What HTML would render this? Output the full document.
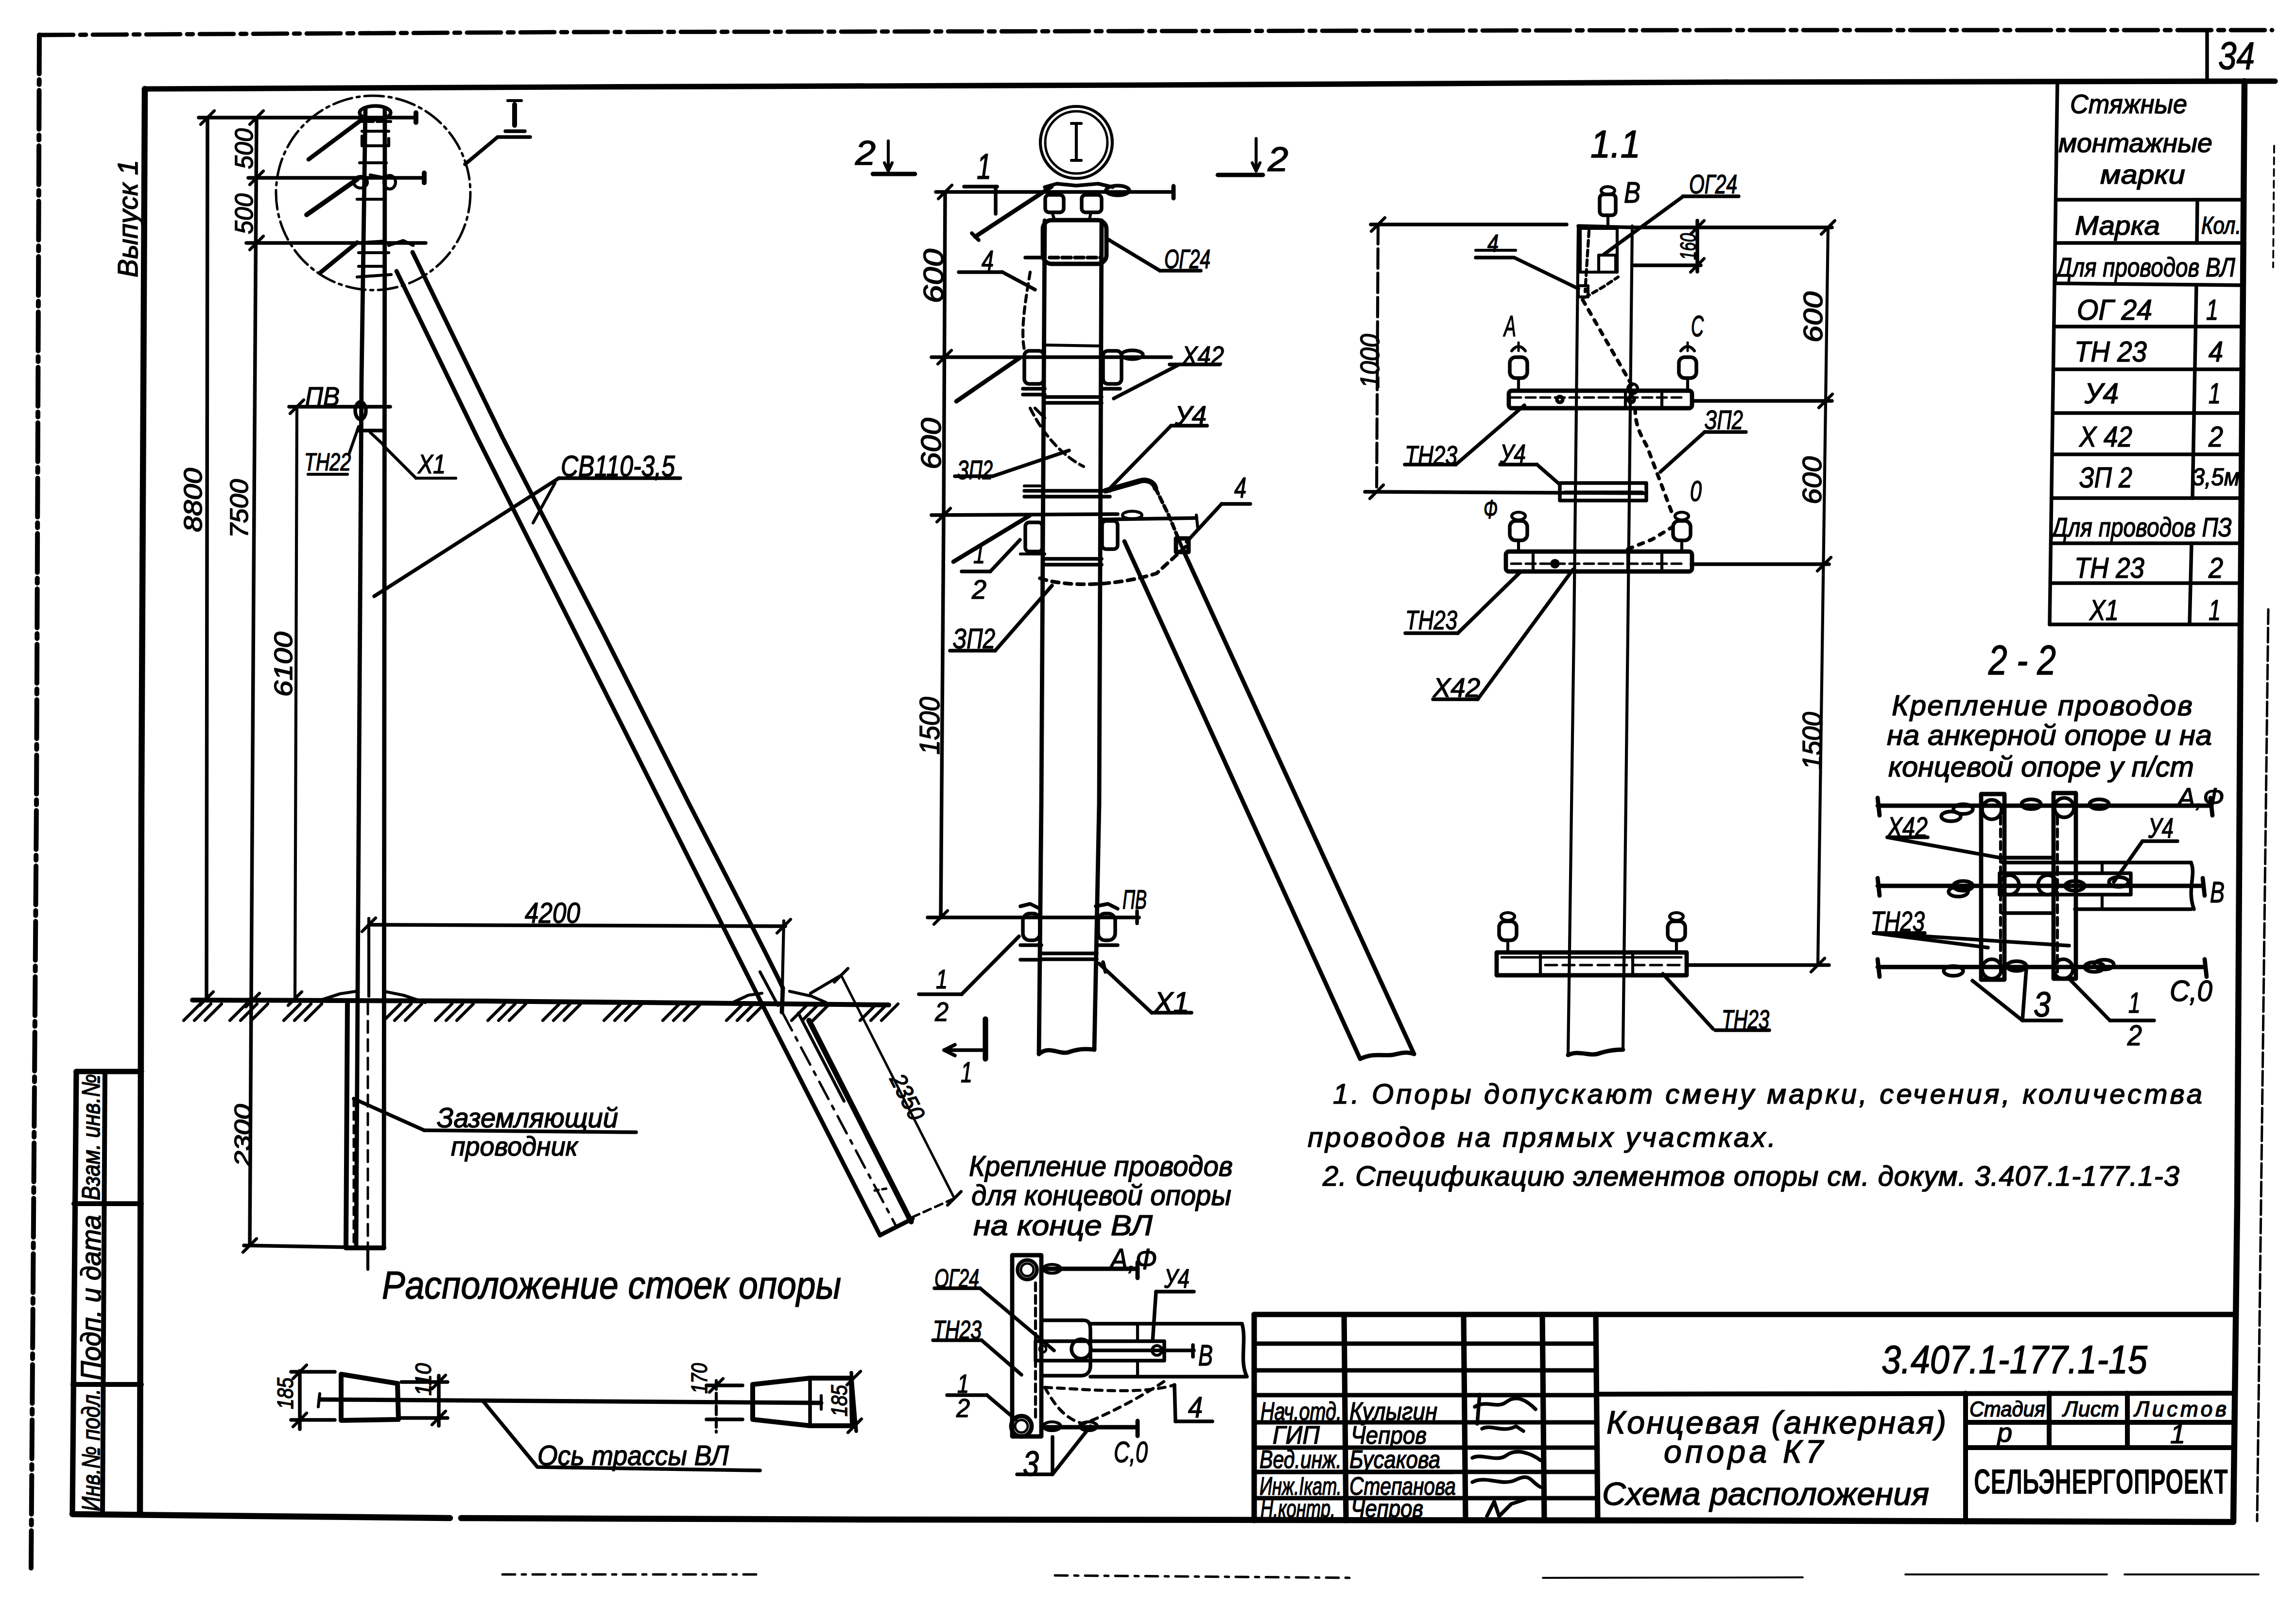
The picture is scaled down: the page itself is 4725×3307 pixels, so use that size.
<!DOCTYPE html>
<html><head><meta charset="utf-8"><title>drawing</title>
<style>
html,body{margin:0;padding:0;background:#fff;}
svg{display:block;}
text{font-family:"Liberation Sans",sans-serif;font-style:italic;fill:#000;stroke:#000;stroke-width:1.6px;}
text.b{font-weight:bold;stroke-width:0;}
text.u{font-style:normal;font-weight:bold;stroke-width:0;}
</style></head><body>
<svg width="4725" height="3307" viewBox="0 0 4725 3307">
<rect x="0" y="0" width="4725" height="3307" fill="#fff"/>
<g fill="none" stroke="#000" stroke-linecap="round" stroke-linejoin="round">
<polyline points="81,72 1181,66 2362,64 3543,62 4676,62" stroke-width="8.8" stroke-dasharray="70,14,12,14"/>
<polyline points="81,72 75,1654 64,3227" stroke-width="10" stroke-dasharray="80,12,10,12"/>
<line x1="4542" y1="62" x2="4542" y2="165" stroke-width="7.5"/>
<text x="4602.5" y="141.8" font-size="80" text-anchor="middle" class="h" textLength="75" lengthAdjust="spacingAndGlyphs">34</text>
<line x1="4680" y1="300" x2="4678" y2="550" stroke-width="3.8" stroke-dasharray="14,10"/>
<line x1="4668" y1="1254" x2="4645" y2="3130" stroke-width="5" stroke-dasharray="30,8"/>
<polyline points="298,183 1181,179 2362,175 3543,169 4682,167" stroke-width="11.2"/>
<polyline points="298,183 291,1654 288,3116" stroke-width="12.5"/>
<polyline points="149,3116 926,3124" stroke-width="12.5"/>
<polyline points="949,3124 1800,3127 3543,3129 4596,3132" stroke-width="12.5"/>
<polyline points="4619,167 4611,1285 4604,2481 4596,3132" stroke-width="12.5"/>
<line x1="1034" y1="3240" x2="1567" y2="3240" stroke-width="5" stroke-dasharray="26,14,8,14"/>
<line x1="2171" y1="3242" x2="2790" y2="3247" stroke-width="5" stroke-dasharray="26,14,8,14"/>
<line x1="3175" y1="3247" x2="3710" y2="3246" stroke-width="3.8"/>
<line x1="3921" y1="3240" x2="4336" y2="3240" stroke-width="3.8"/>
<line x1="4372" y1="3240" x2="4648" y2="3240" stroke-width="3.8"/>
<polyline points="157,2205 291,2205" stroke-width="11.2"/>
<polyline points="157,2205 149,3114" stroke-width="11.2"/>
<polyline points="216,2205 211,3114" stroke-width="10"/>
<line x1="152" y1="2477" x2="291" y2="2477" stroke-width="10"/>
<line x1="150" y1="2849" x2="291" y2="2849" stroke-width="10"/>
<text x="186" y="2358.7" font-size="52" text-anchor="middle" class="h" textLength="260" lengthAdjust="spacingAndGlyphs" transform="rotate(-90 186 2340)">Взам. инв.№</text>
<text x="262" y="470.9" font-size="58" text-anchor="middle" class="h" textLength="242" lengthAdjust="spacingAndGlyphs" transform="rotate(-90 262 450)">Выпуск 1</text>
<text x="186" y="2690.9" font-size="58" text-anchor="middle" class="h" textLength="340" lengthAdjust="spacingAndGlyphs" transform="rotate(-90 186 2670)">Подп. и дата</text>
<text x="186" y="3002.7" font-size="52" text-anchor="middle" class="h" textLength="252" lengthAdjust="spacingAndGlyphs" transform="rotate(-90 186 2984)">Инв.№ подл.</text>
<polyline points="752,224 744,780 736,2040 733,2568" stroke-width="8.8"/>
<polyline points="792,224 791,1300 790,2568" stroke-width="8.8"/>
<line x1="715" y1="2063" x2="712" y2="2568" stroke-width="10"/>
<line x1="712" y1="2568" x2="790" y2="2568" stroke-width="10"/>
<line x1="757" y1="2063" x2="757" y2="2612" stroke-width="5" stroke-dasharray="24,14"/>
<line x1="728" y1="2260" x2="728" y2="2560" stroke-width="5" stroke-dasharray="16,12"/>
<ellipse cx="772" cy="232" rx="32" ry="14" stroke-width="7.5"/>
<line x1="740" y1="250" x2="805" y2="250" stroke-width="6.2" stroke-dasharray="10,8"/>
<line x1="745" y1="270" x2="800" y2="270" stroke-width="6.2"/>
<polyline points="745,280 745,300 800,300 800,285" stroke-width="6.2"/>
<line x1="740" y1="335" x2="795" y2="335" stroke-width="6.2"/>
<line x1="762" y1="360" x2="792" y2="366" stroke-width="6.2"/>
<ellipse cx="742" cy="375" rx="14" ry="12" stroke-width="6.2"/>
<ellipse cx="802" cy="375" rx="12" ry="14" stroke-width="6.2"/>
<line x1="735" y1="410" x2="792" y2="410" stroke-width="6.2"/>
<line x1="735" y1="500" x2="792" y2="496" stroke-width="6.2"/>
<line x1="738" y1="520" x2="800" y2="520" stroke-width="6.2"/>
<line x1="738" y1="548" x2="792" y2="548" stroke-width="6.2"/>
<line x1="735" y1="570" x2="805" y2="565" stroke-width="6.2"/>
<polyline points="800,505 830,495 850,505" stroke-width="6.2"/>
<line x1="409" y1="242" x2="856" y2="242" stroke-width="7.5"/>
<line x1="856" y1="232" x2="856" y2="252" stroke-width="10"/>
<line x1="511" y1="366" x2="873" y2="366" stroke-width="7.5"/>
<line x1="873" y1="356" x2="873" y2="376" stroke-width="10"/>
<line x1="507" y1="500" x2="876" y2="500" stroke-width="7.5"/>
<line x1="635" y1="328" x2="746" y2="245" stroke-width="8.8"/>
<line x1="631" y1="442" x2="735" y2="369" stroke-width="10"/>
<line x1="658" y1="562" x2="735" y2="499" stroke-width="8.8"/>
<circle cx="768" cy="397" r="200" stroke-width="5" stroke-dasharray="40,10,6,10"/>
<polyline points="957,338 1024,282 1091,282" stroke-width="7.5"/>
<line x1="1059" y1="215" x2="1059" y2="258" stroke-width="10"/>
<line x1="1045" y1="207" x2="1073" y2="207" stroke-width="6.2"/>
<line x1="1040" y1="270" x2="1080" y2="270" stroke-width="7.5"/>
<polyline points="427,242 425,2055" stroke-width="7.5"/>
<polyline points="528,242 522,1200 514,2563" stroke-width="7.5"/>
<polyline points="611,837 607,2055" stroke-width="6.2"/>
<line x1="595" y1="837" x2="803" y2="837" stroke-width="7.5"/>
<ellipse cx="742" cy="845" rx="11" ry="18" stroke-width="7.5"/>
<line x1="736" y1="886" x2="791" y2="886" stroke-width="7.5"/>
<line x1="762" y1="890" x2="789" y2="915" stroke-width="6.2"/>
<line x1="413" y1="256" x2="441" y2="228" stroke-width="6.2"/>
<line x1="514" y1="256" x2="542" y2="228" stroke-width="6.2"/>
<line x1="514" y1="380" x2="542" y2="352" stroke-width="6.2"/>
<line x1="514" y1="514" x2="542" y2="486" stroke-width="6.2"/>
<line x1="597" y1="851" x2="625" y2="823" stroke-width="6.2"/>
<line x1="411" y1="2069" x2="439" y2="2041" stroke-width="6.2"/>
<line x1="593" y1="2069" x2="621" y2="2041" stroke-width="6.2"/>
<line x1="506" y1="2072" x2="534" y2="2044" stroke-width="6.2"/>
<line x1="500" y1="2577" x2="528" y2="2549" stroke-width="6.2"/>
<line x1="502" y1="2563" x2="790" y2="2568" stroke-width="7.5"/>
<line x1="757" y1="2568" x2="757" y2="2612" stroke-width="6.2"/>
<text x="501" y="324.7" font-size="52" text-anchor="middle" class="h" textLength="84" lengthAdjust="spacingAndGlyphs" transform="rotate(-90 501 306)">500</text>
<text x="501" y="458.7" font-size="52" text-anchor="middle" class="h" textLength="84" lengthAdjust="spacingAndGlyphs" transform="rotate(-90 501 440)">500</text>
<text x="396" y="1047.7" font-size="52" text-anchor="middle" class="h" textLength="132" lengthAdjust="spacingAndGlyphs" transform="rotate(-90 396 1029)">8800</text>
<text x="491" y="1065.2" font-size="52" text-anchor="middle" class="h" textLength="121" lengthAdjust="spacingAndGlyphs" transform="rotate(-90 491 1046.5)">7500</text>
<text x="582" y="1385.7" font-size="52" text-anchor="middle" class="h" textLength="134" lengthAdjust="spacingAndGlyphs" transform="rotate(-90 582 1367)">6100</text>
<text x="499" y="2353.3" font-size="48" text-anchor="middle" class="h" textLength="128" lengthAdjust="spacingAndGlyphs" transform="rotate(-90 499 2336)">2300</text>
<text x="663.5" y="834.8" font-size="55" text-anchor="middle" class="h" textLength="71" lengthAdjust="spacingAndGlyphs">ПВ</text>
<text x="674" y="968" font-size="50" text-anchor="middle" class="h" textLength="96" lengthAdjust="spacingAndGlyphs">ТН22</text>
<line x1="634" y1="976" x2="715" y2="976" stroke-width="6.2"/>
<polyline points="718,935 738,878" stroke-width="6.2"/>
<text x="888.5" y="973.8" font-size="55" text-anchor="middle" class="h" textLength="57" lengthAdjust="spacingAndGlyphs">Х1</text>
<line x1="856" y1="984" x2="938" y2="984" stroke-width="6.2"/>
<polyline points="856,984 789,917" stroke-width="6.2"/>
<text x="1271.5" y="980.3" font-size="62" text-anchor="middle" class="h" textLength="235" lengthAdjust="spacingAndGlyphs">СВ110-3,5</text>
<line x1="1150" y1="984" x2="1400" y2="984" stroke-width="7.5"/>
<polyline points="1150,984 770,1227" stroke-width="7.5"/>
<line x1="1142" y1="994" x2="1097" y2="1076" stroke-width="6.2"/>
<polyline points="396,2058 1000,2060 1829,2068" stroke-width="10"/>
<polyline points="660,2058 700,2045 733,2040" stroke-width="6.2"/>
<polyline points="790,2040 830,2048 875,2063" stroke-width="6.2"/>
<polyline points="1510,2062 1540,2048 1568,2044" stroke-width="6.2"/>
<polyline points="1625,2040 1670,2050 1700,2063" stroke-width="6.2"/>
<line x1="378" y1="2100" x2="412" y2="2066" stroke-width="6.2"/>
<line x1="400" y1="2100" x2="434" y2="2066" stroke-width="6.2"/>
<line x1="422" y1="2100" x2="456" y2="2066" stroke-width="6.2"/>
<line x1="473" y1="2100" x2="507" y2="2066" stroke-width="6.2"/>
<line x1="495" y1="2100" x2="529" y2="2066" stroke-width="6.2"/>
<line x1="517" y1="2100" x2="551" y2="2066" stroke-width="6.2"/>
<line x1="584" y1="2100" x2="618" y2="2066" stroke-width="6.2"/>
<line x1="606" y1="2100" x2="640" y2="2066" stroke-width="6.2"/>
<line x1="628" y1="2100" x2="662" y2="2066" stroke-width="6.2"/>
<line x1="790" y1="2100" x2="824" y2="2066" stroke-width="6.2"/>
<line x1="812" y1="2100" x2="846" y2="2066" stroke-width="6.2"/>
<line x1="834" y1="2100" x2="868" y2="2066" stroke-width="6.2"/>
<line x1="896" y1="2100" x2="930" y2="2066" stroke-width="6.2"/>
<line x1="918" y1="2100" x2="952" y2="2066" stroke-width="6.2"/>
<line x1="940" y1="2100" x2="974" y2="2066" stroke-width="6.2"/>
<line x1="1004" y1="2100" x2="1038" y2="2066" stroke-width="6.2"/>
<line x1="1026" y1="2100" x2="1060" y2="2066" stroke-width="6.2"/>
<line x1="1048" y1="2100" x2="1082" y2="2066" stroke-width="6.2"/>
<line x1="1117" y1="2100" x2="1151" y2="2066" stroke-width="6.2"/>
<line x1="1139" y1="2100" x2="1173" y2="2066" stroke-width="6.2"/>
<line x1="1161" y1="2100" x2="1195" y2="2066" stroke-width="6.2"/>
<line x1="1243" y1="2100" x2="1277" y2="2066" stroke-width="6.2"/>
<line x1="1265" y1="2100" x2="1299" y2="2066" stroke-width="6.2"/>
<line x1="1287" y1="2100" x2="1321" y2="2066" stroke-width="6.2"/>
<line x1="1364" y1="2100" x2="1398" y2="2066" stroke-width="6.2"/>
<line x1="1386" y1="2100" x2="1420" y2="2066" stroke-width="6.2"/>
<line x1="1408" y1="2100" x2="1442" y2="2066" stroke-width="6.2"/>
<line x1="1495" y1="2100" x2="1529" y2="2066" stroke-width="6.2"/>
<line x1="1517" y1="2100" x2="1551" y2="2066" stroke-width="6.2"/>
<line x1="1539" y1="2100" x2="1573" y2="2066" stroke-width="6.2"/>
<line x1="1629" y1="2100" x2="1663" y2="2066" stroke-width="6.2"/>
<line x1="1651" y1="2100" x2="1685" y2="2066" stroke-width="6.2"/>
<line x1="1673" y1="2100" x2="1707" y2="2066" stroke-width="6.2"/>
<line x1="1770" y1="2100" x2="1804" y2="2066" stroke-width="6.2"/>
<line x1="1792" y1="2100" x2="1826" y2="2066" stroke-width="6.2"/>
<line x1="1814" y1="2100" x2="1848" y2="2066" stroke-width="6.2"/>
<line x1="759" y1="1903" x2="1616" y2="1906" stroke-width="7.5"/>
<line x1="759" y1="1890" x2="759" y2="2050" stroke-width="6.2"/>
<polyline points="1613,1895 1609,2076" stroke-width="6.2"/>
<line x1="745" y1="1917" x2="773" y2="1889" stroke-width="6.2"/>
<line x1="1599" y1="1920" x2="1627" y2="1892" stroke-width="6.2"/>
<text x="1137" y="1898.6" font-size="60" text-anchor="middle" class="h" textLength="114" lengthAdjust="spacingAndGlyphs">4200</text>
<polyline points="816,558 982,900 1183,1300 1361,1654 1568,2066 1811,2542" stroke-width="8.8"/>
<polyline points="849,519 1034,900 1240,1300 1418,1654 1570,1950 1600,2010 1611,2033" stroke-width="8.8"/>
<line x1="1611" y1="2033" x2="1609" y2="2083" stroke-width="8.8"/>
<line x1="1811" y1="2542" x2="1878" y2="2508" stroke-width="8.8"/>
<line x1="1665" y1="2100" x2="1875" y2="2514" stroke-width="11.2"/>
<line x1="1611" y1="2085" x2="1845" y2="2525" stroke-width="5" stroke-dasharray="40,16,8,16"/>
<line x1="1643" y1="2085" x2="1737" y2="2266" stroke-width="6.2"/>
<line x1="1564" y1="2000" x2="1601" y2="2069" stroke-width="6.2"/>
<line x1="1800" y1="2450" x2="1830" y2="2445" stroke-width="5" stroke-dasharray="8,8"/>
<line x1="1668" y1="2044" x2="1731" y2="2007" stroke-width="6.2"/>
<line x1="1731" y1="2007" x2="1964" y2="2466" stroke-width="5"/>
<line x1="1877" y1="2505" x2="1964" y2="2466" stroke-width="5" stroke-dasharray="16,10"/>
<line x1="1717" y1="2021" x2="1745" y2="1993" stroke-width="6.2"/>
<line x1="1950" y1="2480" x2="1978" y2="2452" stroke-width="6.2"/>
<text x="1868" y="2274.3" font-size="48" text-anchor="middle" class="h" textLength="100" lengthAdjust="spacingAndGlyphs" transform="rotate(63 1868 2257)">2350</text>
<text x="1085.5" y="2320" font-size="58" text-anchor="middle" class="h" textLength="373" lengthAdjust="spacingAndGlyphs">Заземляющий</text>
<line x1="873" y1="2326" x2="1309" y2="2330" stroke-width="7.5"/>
<line x1="728" y1="2261" x2="873" y2="2326" stroke-width="7.5"/>
<text x="1058.5" y="2378" font-size="56" text-anchor="middle" class="h" textLength="261" lengthAdjust="spacingAndGlyphs">проводник</text>
<text x="1258.5" y="2672" font-size="80" text-anchor="middle" class="h" textLength="945" lengthAdjust="spacingAndGlyphs">Расположение  стоек  опоры</text>
<line x1="617" y1="2821" x2="617" y2="2941" stroke-width="7.5"/>
<line x1="599" y1="2823" x2="689" y2="2823" stroke-width="7.5"/>
<line x1="599" y1="2922" x2="689" y2="2922" stroke-width="7.5"/>
<line x1="603" y1="2837" x2="631" y2="2809" stroke-width="6.2"/>
<line x1="603" y1="2936" x2="631" y2="2908" stroke-width="6.2"/>
<text x="586" y="2884.1" font-size="46" text-anchor="middle" class="h" textLength="65" lengthAdjust="spacingAndGlyphs" transform="rotate(-90 586 2867.5)">185</text>
<polygon points="702,2828 818,2847 820,2921 702,2923" stroke-width="10"/>
<line x1="658" y1="2880" x2="1690" y2="2887" stroke-width="8.8"/>
<line x1="658" y1="2868" x2="655" y2="2895" stroke-width="6.2"/>
<line x1="903" y1="2831" x2="903" y2="2934" stroke-width="7.5"/>
<line x1="826" y1="2844" x2="921" y2="2844" stroke-width="7.5"/>
<line x1="826" y1="2918" x2="921" y2="2918" stroke-width="7.5"/>
<line x1="889" y1="2858" x2="917" y2="2830" stroke-width="6.2"/>
<line x1="889" y1="2932" x2="917" y2="2904" stroke-width="6.2"/>
<text x="870" y="2855.1" font-size="46" text-anchor="middle" class="h" textLength="67" lengthAdjust="spacingAndGlyphs" transform="rotate(-90 870 2838.5)">110</text>
<line x1="1474" y1="2841" x2="1474" y2="2947" stroke-width="6.2" stroke-dasharray="18,8"/>
<line x1="1454" y1="2851" x2="1528" y2="2851" stroke-width="7.5"/>
<line x1="1454" y1="2921" x2="1528" y2="2921" stroke-width="7.5"/>
<line x1="1460" y1="2865" x2="1488" y2="2837" stroke-width="6.2"/>
<text x="1438" y="2853.1" font-size="46" text-anchor="middle" class="h" textLength="63" lengthAdjust="spacingAndGlyphs" transform="rotate(-90 1438 2836.5)">170</text>
<polygon points="1549,2849 1667,2836 1752,2836 1754,2934 1667,2934 1549,2921" stroke-width="10"/>
<line x1="1667" y1="2836" x2="1667" y2="2934" stroke-width="7.5"/>
<line x1="1690" y1="2872" x2="1690" y2="2900" stroke-width="6.2"/>
<line x1="1752" y1="2825" x2="1762" y2="2945" stroke-width="7.5"/>
<line x1="1743" y1="2850" x2="1771" y2="2822" stroke-width="6.2"/>
<line x1="1745" y1="2948" x2="1773" y2="2920" stroke-width="6.2"/>
<text x="1726" y="2899.1" font-size="46" text-anchor="middle" class="h" textLength="65" lengthAdjust="spacingAndGlyphs" transform="rotate(-90 1726 2882.5)">185</text>
<polyline points="993,2882 1106,3019 1564,3026" stroke-width="7.5"/>
<text x="1303" y="3015" font-size="58" text-anchor="middle" class="h" textLength="394" lengthAdjust="spacingAndGlyphs">Ось  трассы  ВЛ</text>
<text x="1781" y="339.2" font-size="70" text-anchor="middle" class="h" textLength="42" lengthAdjust="spacingAndGlyphs">2</text>
<line x1="1796" y1="358" x2="1883" y2="358" stroke-width="8.8"/>
<line x1="1828" y1="290" x2="1828" y2="352" stroke-width="6.2"/>
<polyline points="1820,335 1828,352 1836,335" stroke-width="6.2"/>
<text x="2630" y="352.2" font-size="70" text-anchor="middle" class="h" textLength="42" lengthAdjust="spacingAndGlyphs">2</text>
<line x1="2506" y1="360" x2="2599" y2="360" stroke-width="8.8"/>
<line x1="2585" y1="285" x2="2585" y2="352" stroke-width="6.2"/>
<polyline points="2577,335 2585,352 2593,335" stroke-width="6.2"/>
<circle cx="2215" cy="293" r="74" stroke-width="6.2"/>
<circle cx="2215" cy="293" r="64" stroke-width="5"/>
<line x1="2215" y1="258" x2="2215" y2="328" stroke-width="6.2"/>
<line x1="2205" y1="254" x2="2225" y2="254" stroke-width="6.2"/>
<line x1="2205" y1="330" x2="2225" y2="330" stroke-width="6.2"/>
<polyline points="2150,454 2143,1654 2138,2169" stroke-width="8.8"/>
<polyline points="2267,454 2262,1654 2252,2160" stroke-width="8.8"/>
<path d="M2138,2169 C2160,2150 2180,2172 2200,2165 S2235,2158 2252,2160" stroke-width="8.8"/>
<rect x="2146" y="453" width="131" height="90" rx="18" stroke-width="8.8"/>
<line x1="2160" y1="530" x2="2265" y2="530" stroke-width="7.5" stroke-dasharray="18,8"/>
<line x1="2110" y1="530" x2="2150" y2="530" stroke-width="7.5"/>
<rect x="2151" y="401" width="38" height="36" rx="8" stroke-width="7.5"/>
<rect x="2226" y="401" width="41" height="36" rx="8" stroke-width="7.5"/>
<line x1="2165" y1="437" x2="2170" y2="452" stroke-width="6.2"/>
<line x1="2245" y1="437" x2="2242" y2="452" stroke-width="6.2"/>
<polyline points="2150,385 2175,378 2215,382 2260,378 2290,385" stroke-width="7.5"/>
<ellipse cx="2300" cy="392" rx="24" ry="10" stroke-width="7.5"/>
<line x1="1926" y1="395" x2="2415" y2="395" stroke-width="7.5"/>
<line x1="2415" y1="383" x2="2415" y2="408" stroke-width="8.8"/>
<rect x="2108" y="722" width="40" height="68" rx="10" stroke-width="7.5"/>
<rect x="2270" y="722" width="38" height="68" rx="10" stroke-width="7.5"/>
<line x1="2105" y1="800" x2="2150" y2="800" stroke-width="7.5"/>
<line x1="2105" y1="812" x2="2150" y2="812" stroke-width="7.5"/>
<line x1="2270" y1="800" x2="2305" y2="800" stroke-width="7.5"/>
<line x1="2150" y1="817" x2="2267" y2="817" stroke-width="7.5"/>
<line x1="2150" y1="829" x2="2267" y2="829" stroke-width="7.5"/>
<line x1="2150" y1="710" x2="2267" y2="712" stroke-width="6.2"/>
<ellipse cx="2330" cy="730" rx="22" ry="9" stroke-width="7.5"/>
<line x1="1917" y1="735" x2="2410" y2="735" stroke-width="7.5"/>
<line x1="2130" y1="840" x2="2150" y2="860" stroke-width="6.2"/>
<path d="M2120,560 C2110,620 2100,680 2108,720" stroke-width="6.2" stroke-dasharray="14,10"/>
<path d="M2120,840 C2150,900 2190,940 2230,960" stroke-width="6.2" stroke-dasharray="16,10"/>
<line x1="2108" y1="1010" x2="2284" y2="1010" stroke-width="7.5"/>
<line x1="2108" y1="1022" x2="2284" y2="1022" stroke-width="7.5"/>
<line x1="2108" y1="1000" x2="2140" y2="1000" stroke-width="6.2"/>
<line x1="1917" y1="1060" x2="2300" y2="1058" stroke-width="7.5"/>
<rect x="2110" y="1075" width="35" height="60" rx="8" stroke-width="7.5"/>
<rect x="2268" y="1072" width="32" height="58" rx="8" stroke-width="7.5"/>
<line x1="2150" y1="1150" x2="2267" y2="1150" stroke-width="7.5"/>
<line x1="2150" y1="1162" x2="2267" y2="1162" stroke-width="7.5"/>
<line x1="2100" y1="1140" x2="2150" y2="1140" stroke-width="6.2"/>
<path d="M2140,1190 C2200,1210 2300,1205 2380,1180 L2440,1125" stroke-width="7.5" stroke-dasharray="14,12"/>
<path d="M2275,1010 L2345,990 C2360,985 2375,992 2378,1005" stroke-width="11.2"/>
<path d="M2378,1005 L2405,1060 2434,1130" stroke-width="7.5" stroke-dasharray="12,8"/>
<line x1="2270" y1="1069" x2="2462" y2="1066" stroke-width="7.5"/>
<line x1="2462" y1="1060" x2="2465" y2="1088" stroke-width="6.2"/>
<ellipse cx="2330" cy="1060" rx="20" ry="8" stroke-width="6.2"/>
<line x1="2314" y1="1114" x2="2799" y2="2179" stroke-width="8.8"/>
<line x1="2434" y1="1130" x2="2910" y2="2169" stroke-width="8.8"/>
<path d="M2799,2179 C2830,2165 2850,2175 2870,2170 S2900,2165 2910,2169" stroke-width="8.8"/>
<rect x="2420" y="1108" width="26" height="28" rx="0" stroke-width="8.8"/>
<rect x="2105" y="1880" width="35" height="55" rx="14" stroke-width="7.5"/>
<rect x="2260" y="1880" width="35" height="55" rx="14" stroke-width="7.5"/>
<polyline points="2100,1865 2120,1860 2140,1870" stroke-width="7.5"/>
<polyline points="2255,1865 2280,1860 2300,1870" stroke-width="7.5"/>
<line x1="2100" y1="1945" x2="2143" y2="1945" stroke-width="7.5"/>
<line x1="2100" y1="1975" x2="2143" y2="1975" stroke-width="7.5"/>
<line x1="2143" y1="1962" x2="2257" y2="1962" stroke-width="7.5"/>
<line x1="2143" y1="1974" x2="2257" y2="1974" stroke-width="7.5"/>
<line x1="2257" y1="1945" x2="2300" y2="1945" stroke-width="7.5"/>
<line x1="2270" y1="1980" x2="2275" y2="2000" stroke-width="7.5"/>
<line x1="1909" y1="1888" x2="2344" y2="1888" stroke-width="7.5"/>
<line x1="2340" y1="1875" x2="2340" y2="1900" stroke-width="7.5"/>
<polyline points="1945,395 1942,1060 1936,1888" stroke-width="7.5"/>
<line x1="1931" y1="409" x2="1959" y2="381" stroke-width="6.2"/>
<line x1="1930" y1="749" x2="1958" y2="721" stroke-width="6.2"/>
<line x1="1928" y1="1074" x2="1956" y2="1046" stroke-width="6.2"/>
<line x1="1922" y1="1902" x2="1950" y2="1874" stroke-width="6.2"/>
<text x="1920" y="588.9" font-size="58" text-anchor="middle" class="h" textLength="112" lengthAdjust="spacingAndGlyphs" transform="rotate(-90 1920 568)">600</text>
<text x="1915" y="933.9" font-size="58" text-anchor="middle" class="h" textLength="106" lengthAdjust="spacingAndGlyphs" transform="rotate(-90 1915 913)">600</text>
<text x="1912" y="1514.4" font-size="58" text-anchor="middle" class="h" textLength="119" lengthAdjust="spacingAndGlyphs" transform="rotate(-90 1912 1493.5)">1500</text>
<text x="2025" y="368" font-size="75" text-anchor="middle" class="h" textLength="30" lengthAdjust="spacingAndGlyphs">1</text>
<line x1="1984" y1="384" x2="2052" y2="384" stroke-width="7.5"/>
<line x1="2049" y1="384" x2="2049" y2="440" stroke-width="7.5"/>
<line x1="2007" y1="487" x2="2164" y2="384" stroke-width="8.8"/>
<line x1="2000" y1="480" x2="2014" y2="494" stroke-width="7.5"/>
<text x="2032.5" y="556.6" font-size="60" text-anchor="middle" class="h" textLength="25" lengthAdjust="spacingAndGlyphs">4</text>
<line x1="1973" y1="560" x2="2063" y2="560" stroke-width="7.5"/>
<polyline points="2063,560 2130,596" stroke-width="7.5"/>
<text x="2443.5" y="552.2" font-size="56" text-anchor="middle" class="h" textLength="95" lengthAdjust="spacingAndGlyphs">ОГ24</text>
<line x1="2387" y1="557" x2="2471" y2="557" stroke-width="7.5"/>
<polyline points="2387,557 2281,493" stroke-width="7.5"/>
<line x1="1968" y1="826" x2="2099" y2="736" stroke-width="8.8"/>
<text x="2475.5" y="751.2" font-size="56" text-anchor="middle" class="h" textLength="87" lengthAdjust="spacingAndGlyphs">Х42</text>
<line x1="2407" y1="750" x2="2510" y2="750" stroke-width="7.5"/>
<polyline points="2427,750 2292,820" stroke-width="7.5"/>
<text x="2006.5" y="986.2" font-size="56" text-anchor="middle" class="h" textLength="73" lengthAdjust="spacingAndGlyphs">ЗП2</text>
<line x1="1965" y1="980" x2="2043" y2="980" stroke-width="7.5"/>
<polyline points="2043,980 2200,927" stroke-width="7.5"/>
<text x="2450.5" y="874.2" font-size="56" text-anchor="middle" class="h" textLength="65" lengthAdjust="spacingAndGlyphs">У4</text>
<line x1="2410" y1="876" x2="2484" y2="876" stroke-width="7.5"/>
<polyline points="2410,876 2284,1005" stroke-width="7.5"/>
<line x1="1962" y1="1156" x2="2119" y2="1061" stroke-width="8.8"/>
<text x="2015" y="1158.8" font-size="55" text-anchor="middle" class="h" textLength="24" lengthAdjust="spacingAndGlyphs">1</text>
<line x1="1979" y1="1176" x2="2038" y2="1176" stroke-width="7.5"/>
<polyline points="2038,1176 2099,1111" stroke-width="7.5"/>
<text x="2015" y="1231.8" font-size="55" text-anchor="middle" class="h" textLength="30" lengthAdjust="spacingAndGlyphs">2</text>
<text x="2552.5" y="1023.6" font-size="60" text-anchor="middle" class="h" textLength="25" lengthAdjust="spacingAndGlyphs">4</text>
<line x1="2514" y1="1037" x2="2573" y2="1037" stroke-width="7.5"/>
<polyline points="2514,1037 2442,1115" stroke-width="7.5"/>
<text x="2004.5" y="1333.9" font-size="58" text-anchor="middle" class="h" textLength="87" lengthAdjust="spacingAndGlyphs">ЗП2</text>
<line x1="1955" y1="1339" x2="2048" y2="1339" stroke-width="7.5"/>
<polyline points="2048,1339 2165,1205" stroke-width="7.5"/>
<text x="2335" y="1869.8" font-size="55" text-anchor="middle" class="h" textLength="50" lengthAdjust="spacingAndGlyphs">ПВ</text>
<text x="1938" y="2033.8" font-size="55" text-anchor="middle" class="h" textLength="24" lengthAdjust="spacingAndGlyphs">1</text>
<line x1="1891" y1="2046" x2="1979" y2="2046" stroke-width="7.5"/>
<polyline points="1979,2046 2097,1927" stroke-width="7.5"/>
<text x="1938" y="2100.8" font-size="55" text-anchor="middle" class="h" textLength="28" lengthAdjust="spacingAndGlyphs">2</text>
<text x="2411" y="2082.6" font-size="60" text-anchor="middle" class="h" textLength="72" lengthAdjust="spacingAndGlyphs">Х1</text>
<line x1="2370" y1="2084" x2="2452" y2="2084" stroke-width="7.5"/>
<polyline points="2370,2084 2262,1983" stroke-width="7.5"/>
<line x1="2028" y1="2097" x2="2028" y2="2179" stroke-width="11.2"/>
<line x1="1943" y1="2161" x2="2028" y2="2161" stroke-width="7.5"/>
<polyline points="1965,2150 1943,2161 1965,2172" stroke-width="7.5"/>
<text x="1989" y="2226.6" font-size="60" text-anchor="middle" class="h" textLength="24" lengthAdjust="spacingAndGlyphs">1</text>
<text x="3324.5" y="323.8" font-size="80" text-anchor="middle" class="h" textLength="103" lengthAdjust="spacingAndGlyphs">1.1</text>
<polyline points="3248,465 3239,1300 3227,2171" stroke-width="6.2"/>
<polyline points="3359,465 3350,1300 3340,2160" stroke-width="6.2"/>
<path d="M3227,2171 C3250,2160 3270,2175 3290,2168 S3325,2160 3340,2160" stroke-width="8.8"/>
<line x1="3248" y1="465" x2="3359" y2="468" stroke-width="7.5"/>
<rect x="3252" y="470" width="76" height="90" rx="0" stroke-width="6.2"/>
<line x1="3270" y1="475" x2="3262" y2="600" stroke-width="6.2" stroke-dasharray="12,8"/>
<rect x="3292" y="400" width="33" height="43" rx="8" stroke-width="7.5"/>
<ellipse cx="3309" cy="392" rx="14" ry="8" stroke-width="6.2"/>
<line x1="3309" y1="443" x2="3309" y2="465" stroke-width="6.2"/>
<text x="3359" y="417.3" font-size="62" text-anchor="middle" class="h" textLength="34" lengthAdjust="spacingAndGlyphs">В</text>
<text x="3525.5" y="398.2" font-size="56" text-anchor="middle" class="h" textLength="99" lengthAdjust="spacingAndGlyphs">ОГ24</text>
<line x1="3463" y1="404" x2="3578" y2="404" stroke-width="7.5"/>
<polyline points="3464,404 3300,524" stroke-width="7.5"/>
<rect x="3290" y="525" width="35" height="35" rx="0" stroke-width="6.2"/>
<polyline points="3262,612 3300,590 3330,570" stroke-width="6.2" stroke-dasharray="10,8"/>
<line x1="2836" y1="462" x2="2833" y2="1012" stroke-width="6.2" stroke-dasharray="40,10"/>
<line x1="2821" y1="462" x2="3224" y2="462" stroke-width="7.5"/>
<line x1="2809" y1="1012" x2="3388" y2="1015" stroke-width="7.5"/>
<line x1="2822" y1="476" x2="2850" y2="448" stroke-width="6.2"/>
<line x1="2819" y1="1026" x2="2847" y2="998" stroke-width="6.2"/>
<text x="2818" y="763.2" font-size="56" text-anchor="middle" class="h" textLength="112" lengthAdjust="spacingAndGlyphs" transform="rotate(-90 2818 743)">1000</text>
<line x1="3762" y1="468" x2="3741" y2="1986" stroke-width="6.2"/>
<line x1="3359" y1="468" x2="3770" y2="468" stroke-width="7.5"/>
<line x1="3482" y1="825" x2="3770" y2="825" stroke-width="7.5"/>
<line x1="3481" y1="1161" x2="3764" y2="1161" stroke-width="7.5"/>
<line x1="3471" y1="1986" x2="3764" y2="1986" stroke-width="7.5"/>
<line x1="3748" y1="482" x2="3776" y2="454" stroke-width="6.2"/>
<line x1="3743" y1="839" x2="3771" y2="811" stroke-width="6.2"/>
<line x1="3740" y1="1175" x2="3768" y2="1147" stroke-width="6.2"/>
<line x1="3727" y1="2000" x2="3755" y2="1972" stroke-width="6.2"/>
<text x="3730" y="672.7" font-size="56" text-anchor="middle" class="h" textLength="105" lengthAdjust="spacingAndGlyphs" transform="rotate(-90 3730 652.5)">600</text>
<text x="3728" y="1008.7" font-size="56" text-anchor="middle" class="h" textLength="99" lengthAdjust="spacingAndGlyphs" transform="rotate(-90 3728 988.5)">600</text>
<text x="3728" y="1544.7" font-size="56" text-anchor="middle" class="h" textLength="119" lengthAdjust="spacingAndGlyphs" transform="rotate(-90 3728 1524.5)">1500</text>
<line x1="3493" y1="454" x2="3493" y2="559" stroke-width="7.5"/>
<line x1="3359" y1="546" x2="3500" y2="546" stroke-width="7.5"/>
<line x1="3479" y1="482" x2="3507" y2="454" stroke-width="6.2"/>
<line x1="3479" y1="560" x2="3507" y2="532" stroke-width="6.2"/>
<text x="3473" y="524.1" font-size="46" text-anchor="middle" class="h" textLength="55" lengthAdjust="spacingAndGlyphs" transform="rotate(-90 3473 507.5)">160</text>
<text x="3072.5" y="518" font-size="50" text-anchor="middle" class="h" textLength="23" lengthAdjust="spacingAndGlyphs">4</text>
<line x1="3037" y1="515" x2="3119" y2="515" stroke-width="6.2"/>
<polyline points="3037,530 3116,530 3248,594" stroke-width="7.5"/>
<rect x="3248" y="588" width="20" height="23" rx="0" stroke-width="6.2"/>
<rect x="3105" y="804" width="377" height="36" rx="6" stroke-width="8.8"/>
<line x1="3110" y1="818" x2="3470" y2="818" stroke-width="5" stroke-dasharray="20,10"/>
<circle cx="3210" cy="822" r="6" stroke-width="7.5"/>
<circle cx="3357" cy="822" r="6" stroke-width="7.5"/>
<line x1="3345" y1="808" x2="3345" y2="838" stroke-width="6.2"/>
<line x1="3420" y1="808" x2="3420" y2="838" stroke-width="6.2"/>
<path d="M3111,722 C3120,710 3130,710 3139,722" stroke-width="6.2"/>
<rect x="3107" y="735" width="36" height="43" rx="12" stroke-width="7.5"/>
<line x1="3125" y1="778" x2="3125" y2="804" stroke-width="6.2"/>
<line x1="3125" y1="705" x2="3125" y2="722" stroke-width="5"/>
<path d="M3459,722 C3468,710 3478,710 3487,722" stroke-width="6.2"/>
<rect x="3455" y="735" width="36" height="43" rx="12" stroke-width="7.5"/>
<line x1="3473" y1="778" x2="3473" y2="804" stroke-width="6.2"/>
<line x1="3473" y1="705" x2="3473" y2="722" stroke-width="5"/>
<text x="3107.5" y="692.3" font-size="62" text-anchor="middle" class="h" textLength="25" lengthAdjust="spacingAndGlyphs">А</text>
<text x="3493" y="692.3" font-size="62" text-anchor="middle" class="h" textLength="26" lengthAdjust="spacingAndGlyphs">С</text>
<line x1="3257" y1="617" x2="3362" y2="799" stroke-width="7.5" stroke-dasharray="10,14"/>
<circle cx="3360" cy="800" r="10" stroke-width="6.2"/>
<path d="M3365,840 C3365,880 3380,900 3390,920 L3441,1056" stroke-width="7.5" stroke-dasharray="10,14"/>
<text x="3547.5" y="883.2" font-size="56" text-anchor="middle" class="h" textLength="79" lengthAdjust="spacingAndGlyphs">ЗП2</text>
<line x1="3508" y1="889" x2="3593" y2="889" stroke-width="7.5"/>
<polyline points="3508,889 3417,971" stroke-width="7.5"/>
<rect x="3210" y="994" width="178" height="36" rx="0" stroke-width="7.5"/>
<line x1="3220" y1="1012" x2="3380" y2="1012" stroke-width="5"/>
<text x="2945" y="956.2" font-size="56" text-anchor="middle" class="h" textLength="108" lengthAdjust="spacingAndGlyphs">ТН23</text>
<line x1="2891" y1="956" x2="2996" y2="956" stroke-width="7.5"/>
<polyline points="2996,956 3137,834" stroke-width="7.5"/>
<text x="3113.5" y="953.2" font-size="56" text-anchor="middle" class="h" textLength="53" lengthAdjust="spacingAndGlyphs">У4</text>
<line x1="3087" y1="956" x2="3163" y2="956" stroke-width="7.5"/>
<polyline points="3163,956 3210,997" stroke-width="7.5"/>
<text x="3067.5" y="1067.2" font-size="56" text-anchor="middle" class="h" textLength="29" lengthAdjust="spacingAndGlyphs">Ф</text>
<text x="3490" y="1030.6" font-size="60" text-anchor="middle" class="h" textLength="24" lengthAdjust="spacingAndGlyphs">0</text>
<rect x="3099" y="1135" width="383" height="41" rx="6" stroke-width="8.8"/>
<line x1="3110" y1="1160" x2="3470" y2="1160" stroke-width="5" stroke-dasharray="20,10"/>
<circle cx="3200" cy="1160" r="6" stroke-width="7.5"/>
<line x1="3155" y1="1140" x2="3155" y2="1172" stroke-width="6.2"/>
<line x1="3350" y1="1140" x2="3350" y2="1172" stroke-width="6.2"/>
<line x1="3420" y1="1140" x2="3420" y2="1172" stroke-width="6.2"/>
<rect x="3107" y="1072" width="36" height="40" rx="12" stroke-width="7.5"/>
<ellipse cx="3125" cy="1062" rx="14" ry="8" stroke-width="6.2"/>
<line x1="3125" y1="1112" x2="3125" y2="1135" stroke-width="6.2"/>
<rect x="3443" y="1072" width="36" height="40" rx="12" stroke-width="7.5"/>
<ellipse cx="3461" cy="1062" rx="14" ry="8" stroke-width="6.2"/>
<line x1="3461" y1="1112" x2="3461" y2="1135" stroke-width="6.2"/>
<path d="M3350,1130 L3400,1110 3441,1085" stroke-width="7.5" stroke-dasharray="10,14"/>
<text x="2945.5" y="1295.2" font-size="56" text-anchor="middle" class="h" textLength="107" lengthAdjust="spacingAndGlyphs">ТН23</text>
<line x1="2892" y1="1303" x2="3000" y2="1303" stroke-width="7.5"/>
<polyline points="3000,1303 3129,1177" stroke-width="7.5"/>
<text x="2997.5" y="1434.2" font-size="56" text-anchor="middle" class="h" textLength="97" lengthAdjust="spacingAndGlyphs">Х42</text>
<line x1="2949" y1="1439" x2="3041" y2="1439" stroke-width="7.5"/>
<polyline points="3041,1439 3237,1172" stroke-width="7.5"/>
<rect x="3080" y="1960" width="391" height="47" rx="0" stroke-width="8.8"/>
<line x1="3090" y1="1970" x2="3460" y2="1970" stroke-width="5"/>
<line x1="3170" y1="1962" x2="3170" y2="2005" stroke-width="6.2"/>
<line x1="3360" y1="1962" x2="3360" y2="2005" stroke-width="6.2"/>
<line x1="3180" y1="1986" x2="3460" y2="1986" stroke-width="5" stroke-dasharray="24,12"/>
<rect x="3085" y="1896" width="36" height="39" rx="12" stroke-width="7.5"/>
<ellipse cx="3103" cy="1886" rx="14" ry="8" stroke-width="6.2"/>
<line x1="3103" y1="1935" x2="3103" y2="1960" stroke-width="6.2"/>
<rect x="3432" y="1896" width="36" height="39" rx="12" stroke-width="7.5"/>
<ellipse cx="3450" cy="1886" rx="14" ry="8" stroke-width="6.2"/>
<line x1="3450" y1="1935" x2="3450" y2="1960" stroke-width="6.2"/>
<text x="3592" y="2117.2" font-size="56" text-anchor="middle" class="h" textLength="98" lengthAdjust="spacingAndGlyphs">ТН23</text>
<line x1="3530" y1="2120" x2="3641" y2="2120" stroke-width="7.5"/>
<polyline points="3525,2117 3422,2004" stroke-width="7.5"/>
<polyline points="4234,167 4218,1285" stroke-width="7.5"/>
<line x1="4234" y1="411" x2="4619" y2="411" stroke-width="7.5"/>
<line x1="4232" y1="500" x2="4619" y2="500" stroke-width="7.5"/>
<line x1="4230" y1="583" x2="4618" y2="587" stroke-width="7.5"/>
<line x1="4229" y1="672" x2="4617" y2="672" stroke-width="7.5"/>
<line x1="4228" y1="760" x2="4616" y2="760" stroke-width="7.5"/>
<line x1="4227" y1="850" x2="4615" y2="850" stroke-width="7.5"/>
<line x1="4226" y1="935" x2="4614" y2="935" stroke-width="7.5"/>
<line x1="4225" y1="1025" x2="4613" y2="1025" stroke-width="7.5"/>
<line x1="4223" y1="1118" x2="4612" y2="1118" stroke-width="7.5"/>
<line x1="4221" y1="1200" x2="4611" y2="1200" stroke-width="7.5"/>
<line x1="4218" y1="1285" x2="4611" y2="1285" stroke-width="7.5"/>
<line x1="4522" y1="411" x2="4521" y2="500" stroke-width="7.5"/>
<line x1="4520" y1="587" x2="4512" y2="1025" stroke-width="7.5"/>
<line x1="4510" y1="1118" x2="4506" y2="1285" stroke-width="7.5"/>
<text x="4380.5" y="233.2" font-size="56" text-anchor="middle" class="h" textLength="241" lengthAdjust="spacingAndGlyphs">Стяжные</text>
<text x="4394.5" y="313.2" font-size="56" text-anchor="middle" class="h" textLength="317" lengthAdjust="spacingAndGlyphs">монтажные</text>
<text x="4409.5" y="378.2" font-size="56" text-anchor="middle" class="h" textLength="175" lengthAdjust="spacingAndGlyphs">марки</text>
<text x="4357.5" y="483.2" font-size="56" text-anchor="middle" class="h" textLength="175" lengthAdjust="spacingAndGlyphs">Марка</text>
<text x="4571" y="481" font-size="50" text-anchor="middle" class="h" textLength="82" lengthAdjust="spacingAndGlyphs">Кол.</text>
<text x="4416" y="569.2" font-size="56" text-anchor="middle" class="h" textLength="368" lengthAdjust="spacingAndGlyphs">Для проводов ВЛ</text>
<text x="4351.5" y="657.6" font-size="60" text-anchor="middle" class="h" textLength="155" lengthAdjust="spacingAndGlyphs">ОГ 24</text>
<text x="4552.5" y="657.6" font-size="60" text-anchor="middle" class="h" textLength="25" lengthAdjust="spacingAndGlyphs">1</text>
<text x="4343.5" y="743.6" font-size="60" text-anchor="middle" class="h" textLength="149" lengthAdjust="spacingAndGlyphs">ТН 23</text>
<text x="4560" y="743.6" font-size="60" text-anchor="middle" class="h" textLength="30" lengthAdjust="spacingAndGlyphs">4</text>
<text x="4325" y="829.6" font-size="60" text-anchor="middle" class="h" textLength="70" lengthAdjust="spacingAndGlyphs">У4</text>
<text x="4557.5" y="829.6" font-size="60" text-anchor="middle" class="h" textLength="25" lengthAdjust="spacingAndGlyphs">1</text>
<text x="4333.5" y="918.6" font-size="60" text-anchor="middle" class="h" textLength="109" lengthAdjust="spacingAndGlyphs">Х 42</text>
<text x="4560" y="918.6" font-size="60" text-anchor="middle" class="h" textLength="30" lengthAdjust="spacingAndGlyphs">2</text>
<text x="4333.5" y="1002.6" font-size="60" text-anchor="middle" class="h" textLength="109" lengthAdjust="spacingAndGlyphs">ЗП 2</text>
<text x="4560" y="999" font-size="50" text-anchor="middle" class="h" textLength="98" lengthAdjust="spacingAndGlyphs">3,5м</text>
<text x="4408" y="1104.2" font-size="56" text-anchor="middle" class="h" textLength="370" lengthAdjust="spacingAndGlyphs">Для проводов ПЗ</text>
<text x="4341" y="1188.6" font-size="60" text-anchor="middle" class="h" textLength="144" lengthAdjust="spacingAndGlyphs">ТН 23</text>
<text x="4560" y="1188.6" font-size="60" text-anchor="middle" class="h" textLength="30" lengthAdjust="spacingAndGlyphs">2</text>
<text x="4330" y="1275.6" font-size="60" text-anchor="middle" class="h" textLength="60" lengthAdjust="spacingAndGlyphs">Х1</text>
<text x="4557.5" y="1275.6" font-size="60" text-anchor="middle" class="h" textLength="25" lengthAdjust="spacingAndGlyphs">1</text>
<text x="4161.5" y="1388" font-size="86" text-anchor="middle" class="h" textLength="139" lengthAdjust="spacingAndGlyphs">2 - 2</text>
<text x="4202.5" y="1472" font-size="60" text-anchor="middle" class="h" textLength="619" lengthAdjust="spacing">Крепление   проводов</text>
<text x="4217.5" y="1533" font-size="60" text-anchor="middle" class="h" textLength="669" lengthAdjust="spacingAndGlyphs">на анкерной опоре и  на</text>
<text x="4200.5" y="1598" font-size="60" text-anchor="middle" class="h" textLength="629" lengthAdjust="spacingAndGlyphs">концевой  опоре у п/ст</text>
<rect x="4077" y="1634" width="48" height="382" rx="0" stroke-width="8.8"/>
<rect x="4226" y="1632" width="46" height="382" rx="0" stroke-width="8.8"/>
<line x1="4117" y1="1680" x2="4117" y2="2000" stroke-width="6.2" stroke-dasharray="16,10"/>
<line x1="4234" y1="1680" x2="4234" y2="2000" stroke-width="6.2" stroke-dasharray="16,10"/>
<line x1="3864" y1="1658" x2="4549" y2="1658" stroke-width="8.8"/>
<line x1="3864" y1="1823" x2="4533" y2="1823" stroke-width="8.8"/>
<line x1="3864" y1="1990" x2="4537" y2="1990" stroke-width="8.8"/>
<line x1="3864" y1="1642" x2="3868" y2="1678" stroke-width="8.8"/>
<line x1="3864" y1="1807" x2="3868" y2="1843" stroke-width="8.8"/>
<line x1="3864" y1="1974" x2="3868" y2="2010" stroke-width="8.8"/>
<line x1="4549" y1="1642" x2="4553" y2="1678" stroke-width="8.8"/>
<line x1="4533" y1="1807" x2="4537" y2="1843" stroke-width="8.8"/>
<line x1="4537" y1="1974" x2="4541" y2="2010" stroke-width="8.8"/>
<line x1="4115" y1="1765" x2="4226" y2="1765" stroke-width="7.5"/>
<line x1="4121" y1="1775" x2="4509" y2="1775" stroke-width="7.5"/>
<line x1="4270" y1="1871" x2="4509" y2="1871" stroke-width="7.5"/>
<line x1="4121" y1="1879" x2="4226" y2="1879" stroke-width="7.5"/>
<path d="M4509,1775 C4520,1800 4500,1830 4515,1871" stroke-width="7.5"/>
<rect x="4115" y="1797" width="270" height="44" rx="0" stroke-width="7.5"/>
<line x1="4326" y1="1775" x2="4326" y2="1797" stroke-width="6.2"/>
<line x1="4326" y1="1841" x2="4326" y2="1871" stroke-width="6.2"/>
<circle cx="4099" cy="1666" r="20" stroke-width="7.5"/>
<circle cx="4248" cy="1662" r="20" stroke-width="7.5"/>
<circle cx="4135" cy="1821" r="20" stroke-width="7.5"/>
<circle cx="4214" cy="1821" r="20" stroke-width="7.5"/>
<circle cx="4099" cy="1994" r="20" stroke-width="7.5"/>
<circle cx="4246" cy="1994" r="20" stroke-width="7.5"/>
<ellipse cx="4040" cy="1665" rx="20" ry="10" stroke-width="7.5"/>
<ellipse cx="4015" cy="1680" rx="20" ry="10" stroke-width="7.5"/>
<ellipse cx="4180" cy="1655" rx="20" ry="10" stroke-width="7.5"/>
<ellipse cx="4320" cy="1655" rx="20" ry="10" stroke-width="7.5"/>
<ellipse cx="4040" cy="1823" rx="20" ry="10" stroke-width="7.5"/>
<ellipse cx="4030" cy="1835" rx="20" ry="10" stroke-width="7.5"/>
<ellipse cx="4270" cy="1823" rx="20" ry="10" stroke-width="7.5"/>
<ellipse cx="4360" cy="1815" rx="20" ry="10" stroke-width="7.5"/>
<ellipse cx="4020" cy="1998" rx="20" ry="10" stroke-width="7.5"/>
<ellipse cx="4150" cy="1988" rx="20" ry="10" stroke-width="7.5"/>
<ellipse cx="4310" cy="1990" rx="20" ry="10" stroke-width="7.5"/>
<ellipse cx="4330" cy="1985" rx="20" ry="10" stroke-width="7.5"/>
<text x="4529" y="1660.2" font-size="56" text-anchor="middle" class="h" textLength="96" lengthAdjust="spacingAndGlyphs">А,Ф</text>
<text x="3925.5" y="1721.9" font-size="58" text-anchor="middle" class="h" textLength="83" lengthAdjust="spacingAndGlyphs">Х42</text>
<line x1="3884" y1="1723" x2="3967" y2="1723" stroke-width="7.5"/>
<polyline points="3884,1723 4115,1765 4226,1765" stroke-width="7.5"/>
<text x="4447" y="1723.9" font-size="58" text-anchor="middle" class="h" textLength="52" lengthAdjust="spacingAndGlyphs">У4</text>
<line x1="4409" y1="1731" x2="4481" y2="1731" stroke-width="7.5"/>
<polyline points="4409,1731 4350,1815" stroke-width="7.5"/>
<text x="4563" y="1857.3" font-size="62" text-anchor="middle" class="h" textLength="30" lengthAdjust="spacingAndGlyphs">В</text>
<text x="3905.5" y="1915.9" font-size="58" text-anchor="middle" class="h" textLength="111" lengthAdjust="spacingAndGlyphs">ТН23</text>
<line x1="3856" y1="1920" x2="3961" y2="1920" stroke-width="7.5"/>
<polyline points="3856,1920 4091,1950" stroke-width="7.5"/>
<polyline points="3856,1920 4258,1946" stroke-width="7.5"/>
<text x="4509" y="2060.3" font-size="62" text-anchor="middle" class="h" textLength="88" lengthAdjust="spacingAndGlyphs">С,0</text>
<text x="4202.5" y="2091.9" font-size="72" text-anchor="middle" class="h" textLength="35" lengthAdjust="spacingAndGlyphs">3</text>
<line x1="4162" y1="2100" x2="4242" y2="2100" stroke-width="7.5"/>
<polyline points="4059,2018 4162,2100 4170,1994" stroke-width="7.5"/>
<text x="4392.5" y="2083.6" font-size="60" text-anchor="middle" class="h" textLength="25" lengthAdjust="spacingAndGlyphs">1</text>
<line x1="4342" y1="2100" x2="4433" y2="2100" stroke-width="7.5"/>
<polyline points="4342,2100 4258,2014" stroke-width="7.5"/>
<text x="4393" y="2150.6" font-size="60" text-anchor="middle" class="h" textLength="30" lengthAdjust="spacingAndGlyphs">2</text>
<text x="3637.5" y="2271" font-size="58" text-anchor="middle" class="h" textLength="1789" lengthAdjust="spacing">1. Опоры  допускают смену  марки, сечения,  количества</text>
<text x="3172.5" y="2360" font-size="58" text-anchor="middle" class="h" textLength="963" lengthAdjust="spacing">проводов на  прямых   участках.</text>
<text x="3603.5" y="2440" font-size="58" text-anchor="middle" class="h" textLength="1763" lengthAdjust="spacing">2. Спецификацию  элементов опоры  см. докум. 3.407.1-177.1-3</text>
<line x1="2581" y1="2705" x2="4596" y2="2705" stroke-width="11.2"/>
<line x1="2581" y1="2705" x2="2581" y2="3129" stroke-width="11.2"/>
<line x1="2766" y1="2705" x2="2770" y2="3129" stroke-width="11.2"/>
<line x1="3012" y1="2705" x2="3016" y2="3129" stroke-width="11.2"/>
<line x1="3174" y1="2705" x2="3178" y2="3129" stroke-width="11.2"/>
<line x1="3284" y1="2705" x2="3288" y2="3129" stroke-width="11.2"/>
<line x1="2581" y1="2765" x2="3285" y2="2765" stroke-width="8.8"/>
<line x1="2581" y1="2820" x2="3285" y2="2820" stroke-width="8.8"/>
<line x1="2581" y1="2871" x2="3285" y2="2871" stroke-width="8.8"/>
<line x1="2581" y1="2927" x2="3285" y2="2927" stroke-width="8.8"/>
<line x1="2581" y1="2979" x2="3285" y2="2979" stroke-width="8.8"/>
<line x1="2581" y1="3029" x2="3285" y2="3029" stroke-width="8.8"/>
<line x1="2581" y1="3083" x2="3285" y2="3083" stroke-width="8.8"/>
<line x1="3285" y1="2869" x2="4596" y2="2867" stroke-width="10"/>
<line x1="4045" y1="2867" x2="4045" y2="3132" stroke-width="10"/>
<line x1="4045" y1="2927" x2="4596" y2="2927" stroke-width="10"/>
<line x1="4045" y1="2979" x2="4596" y2="2979" stroke-width="10"/>
<line x1="4217" y1="2867" x2="4217" y2="2979" stroke-width="10"/>
<line x1="4378" y1="2867" x2="4378" y2="2979" stroke-width="10"/>
<text x="2677.5" y="2922" font-size="52" text-anchor="middle" class="h" textLength="167" lengthAdjust="spacingAndGlyphs">Нач.отд.</text>
<text x="2867.5" y="2922" font-size="52" text-anchor="middle" class="h" textLength="181" lengthAdjust="spacingAndGlyphs">Кулыгин</text>
<text x="2667.5" y="2971" font-size="52" text-anchor="middle" class="h" textLength="97" lengthAdjust="spacingAndGlyphs">ГИП</text>
<text x="2858" y="2971" font-size="52" text-anchor="middle" class="h" textLength="156" lengthAdjust="spacingAndGlyphs">Чепров</text>
<text x="2676.5" y="3021" font-size="52" text-anchor="middle" class="h" textLength="169" lengthAdjust="spacingAndGlyphs">Вед.инж.</text>
<text x="2870.5" y="3021" font-size="52" text-anchor="middle" class="h" textLength="187" lengthAdjust="spacingAndGlyphs">Бусакова</text>
<text x="2676.5" y="3076" font-size="52" text-anchor="middle" class="h" textLength="169" lengthAdjust="spacingAndGlyphs">Инж.Iкат.</text>
<text x="2886.5" y="3076" font-size="52" text-anchor="middle" class="h" textLength="219" lengthAdjust="spacingAndGlyphs">Степанова</text>
<text x="2671" y="3122" font-size="52" text-anchor="middle" class="h" textLength="154" lengthAdjust="spacingAndGlyphs">Н.контр.</text>
<text x="2854.5" y="3122" font-size="52" text-anchor="middle" class="h" textLength="149" lengthAdjust="spacingAndGlyphs">Чепров</text>
<line x1="2588" y1="2926" x2="2761" y2="2926" stroke-width="5"/>
<line x1="2784" y1="2926" x2="2954" y2="2926" stroke-width="5"/>
<line x1="2588" y1="3031" x2="2761" y2="3031" stroke-width="5"/>
<line x1="2784" y1="3031" x2="2990" y2="3031" stroke-width="5"/>
<line x1="2588" y1="3083" x2="2990" y2="3083" stroke-width="5"/>
<path d="M3035,2895 C3060,2880 3080,2900 3100,2885 S3140,2880 3160,2900" stroke-width="7.5"/>
<line x1="3045" y1="2870" x2="3040" y2="2930" stroke-width="7.5"/>
<path d="M3050,2940 C3070,2930 3090,2950 3120,2935 L3135,2945" stroke-width="7.5"/>
<path d="M3030,3000 C3050,2990 3080,3010 3100,2995 S3150,2990 3170,3005" stroke-width="7.5"/>
<path d="M3030,3050 C3060,3035 3090,3060 3120,3045 S3150,3050 3170,3060" stroke-width="7.5"/>
<path d="M3060,3120 L3075,3090 3085,3120 3110,3095 3140,3085" stroke-width="7.5"/>
<text x="4145.5" y="2826" font-size="82" text-anchor="middle" class="h" textLength="547" lengthAdjust="spacingAndGlyphs">3.407.1-177.1-15</text>
<text x="3655.5" y="2950" font-size="66" text-anchor="middle" class="h" textLength="699" lengthAdjust="spacing">Концевая  (анкерная)</text>
<text x="3588" y="3010" font-size="66" text-anchor="middle" class="h" textLength="328" lengthAdjust="spacing">опора   К7</text>
<text x="3633.5" y="3097" font-size="66" text-anchor="middle" class="h" textLength="673" lengthAdjust="spacingAndGlyphs">Схема  расположения</text>
<text x="4131" y="2915" font-size="44" text-anchor="middle" class="h" textLength="156" lengthAdjust="spacingAndGlyphs">Стадия</text>
<text x="4303.5" y="2915" font-size="44" text-anchor="middle" class="h" textLength="115" lengthAdjust="spacing">Лист</text>
<text x="4487.5" y="2915" font-size="44" text-anchor="middle" class="h" textLength="189" lengthAdjust="spacing">Листов</text>
<text x="4125.5" y="2967" font-size="56" text-anchor="middle" class="h" textLength="57" lengthAdjust="spacing">р</text>
<text x="4481.5" y="2970" font-size="56" text-anchor="middle" class="h" textLength="35" lengthAdjust="spacing">1</text>
<text x="4323.5" y="3074" font-size="72" text-anchor="middle" class="u" textLength="523" lengthAdjust="spacingAndGlyphs">СЕЛЬЭНЕРГОПРОЕКТ</text>
<text x="2265.5" y="2420" font-size="60" text-anchor="middle" class="h" textLength="543" lengthAdjust="spacingAndGlyphs">Крепление  проводов</text>
<text x="2266.5" y="2480" font-size="60" text-anchor="middle" class="h" textLength="535" lengthAdjust="spacingAndGlyphs">для  концевой  опоры</text>
<text x="2187.5" y="2542" font-size="60" text-anchor="middle" class="h" textLength="369" lengthAdjust="spacingAndGlyphs">на  конце  ВЛ</text>
<rect x="2083" y="2583" width="60" height="373" rx="0" stroke-width="8.8"/>
<line x1="2131" y1="2640" x2="2131" y2="2920" stroke-width="6.2" stroke-dasharray="16,10"/>
<circle cx="2114" cy="2613" r="20" stroke-width="7.5"/>
<circle cx="2114" cy="2613" r="13" stroke-width="5"/>
<circle cx="2102" cy="2935" r="21" stroke-width="8.8"/>
<circle cx="2102" cy="2935" r="13" stroke-width="5"/>
<line x1="2145" y1="2611" x2="2341" y2="2611" stroke-width="8.8"/>
<line x1="2341" y1="2598" x2="2341" y2="2630" stroke-width="8.8"/>
<ellipse cx="2165" cy="2611" rx="18" ry="9" stroke-width="6.2"/>
<line x1="2145" y1="2937" x2="2341" y2="2937" stroke-width="8.8"/>
<line x1="2341" y1="2924" x2="2341" y2="2955" stroke-width="8.8"/>
<ellipse cx="2165" cy="2935" rx="18" ry="9" stroke-width="6.2"/>
<ellipse cx="2240" cy="2935" rx="18" ry="9" stroke-width="6.2"/>
<text x="2332.5" y="2612.3" font-size="62" text-anchor="middle" class="h" textLength="97" lengthAdjust="spacingAndGlyphs">А,Ф</text>
<text x="2327" y="3009.3" font-size="62" text-anchor="middle" class="h" textLength="70" lengthAdjust="spacingAndGlyphs">С,0</text>
<path d="M2143,2717 L2230,2717 C2244,2717 2244,2730 2244,2740 L2244,2810 C2244,2825 2235,2831 2225,2831 L2143,2831" stroke-width="7.5"/>
<line x1="2143" y1="2620" x2="2143" y2="2717" stroke-width="7.5"/>
<rect x="2131" y="2760" width="265" height="40" rx="0" stroke-width="7.5"/>
<path d="M2244,2724 L2556,2724 C2566,2760 2550,2800 2566,2833 L2244,2833" stroke-width="7.5"/>
<circle cx="2225" cy="2776" r="20" stroke-width="7.5"/>
<circle cx="2146" cy="2776" r="7" stroke-width="5"/>
<circle cx="2381" cy="2779" r="10" stroke-width="6.2"/>
<line x1="2245" y1="2779" x2="2457" y2="2779" stroke-width="7.5"/>
<line x1="2455" y1="2768" x2="2455" y2="2792" stroke-width="7.5"/>
<text x="2481" y="2810.3" font-size="62" text-anchor="middle" class="h" textLength="30" lengthAdjust="spacingAndGlyphs">В</text>
<line x1="2341" y1="2724" x2="2341" y2="2760" stroke-width="6.2"/>
<line x1="2341" y1="2800" x2="2341" y2="2833" stroke-width="6.2"/>
<path d="M2150,2855 C2250,2860 2350,2870 2417,2850" stroke-width="6.2" stroke-dasharray="14,12"/>
<path d="M2150,2855 C2170,2890 2190,2920 2230,2930 C2280,2910 2340,2880 2400,2840" stroke-width="6.2" stroke-dasharray="14,12"/>
<text x="1969" y="2649.4" font-size="54" text-anchor="middle" class="h" textLength="92" lengthAdjust="spacingAndGlyphs">ОГ24</text>
<line x1="1923" y1="2651" x2="2017" y2="2651" stroke-width="7.5"/>
<polyline points="2017,2651 2169,2779" stroke-width="7.5"/>
<text x="1970" y="2755.4" font-size="54" text-anchor="middle" class="h" textLength="100" lengthAdjust="spacingAndGlyphs">ТН23</text>
<line x1="1920" y1="2758" x2="2020" y2="2758" stroke-width="7.5"/>
<polyline points="2020,2758 2102,2829" stroke-width="7.5"/>
<text x="1982" y="2866.4" font-size="54" text-anchor="middle" class="h" textLength="24" lengthAdjust="spacingAndGlyphs">1</text>
<line x1="1949" y1="2871" x2="2031" y2="2871" stroke-width="7.5"/>
<polyline points="2031,2871 2090,2921" stroke-width="7.5"/>
<text x="1982" y="2916.4" font-size="54" text-anchor="middle" class="h" textLength="28" lengthAdjust="spacingAndGlyphs">2</text>
<text x="2422" y="2650.2" font-size="56" text-anchor="middle" class="h" textLength="52" lengthAdjust="spacingAndGlyphs">У4</text>
<line x1="2379" y1="2658" x2="2457" y2="2658" stroke-width="7.5"/>
<polyline points="2379,2658 2372,2760" stroke-width="7.5"/>
<text x="2460" y="2917.3" font-size="62" text-anchor="middle" class="h" textLength="30" lengthAdjust="spacingAndGlyphs">4</text>
<line x1="2419" y1="2925" x2="2495" y2="2925" stroke-width="7.5"/>
<polyline points="2419,2925 2417,2850" stroke-width="7.5"/>
<text x="2121.5" y="3036.9" font-size="72" text-anchor="middle" class="h" textLength="33" lengthAdjust="spacingAndGlyphs">3</text>
<line x1="2093" y1="3034" x2="2166" y2="3034" stroke-width="7.5"/>
<polyline points="2166,2957 2166,3034 2244,2935" stroke-width="7.5"/>
</g>
</svg>
</body></html>
